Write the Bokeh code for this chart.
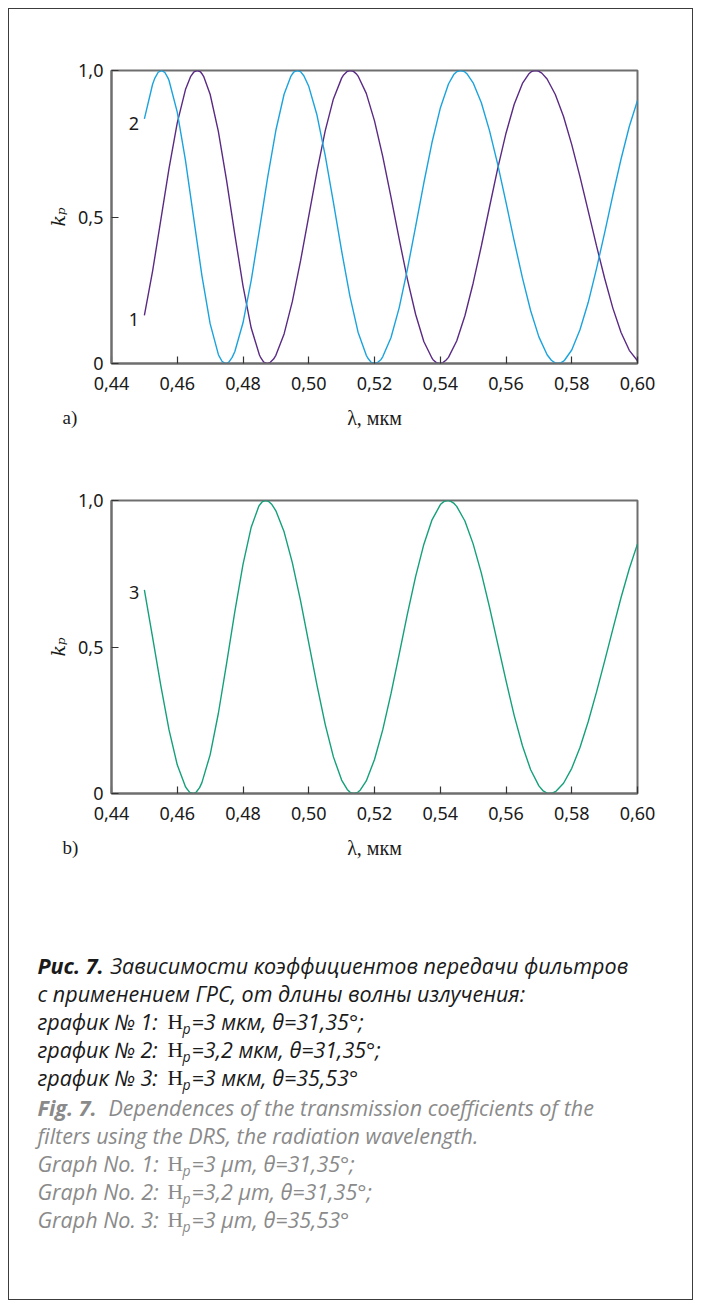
import math
from bokeh.plotting import figure
from bokeh.layouts import column
from bokeh.models import Label, Range1d, FixedTicker
from bokeh.embed import file_html
from bokeh.resources import INLINE

# ---------------- data ----------------
wavelength = [0.4500, 0.4525, 0.4550, 0.4575, 0.4600, 0.4625, 0.4650, 0.4675, 0.4700, 0.4725,
              0.4750, 0.4775, 0.4800, 0.4825, 0.4850, 0.4875, 0.4900, 0.4925, 0.4950, 0.4975,
              0.5000, 0.5025, 0.5050, 0.5075, 0.5100, 0.5125, 0.5150, 0.5175, 0.5200, 0.5225,
              0.5250, 0.5275, 0.5300, 0.5325, 0.5350, 0.5375, 0.5400, 0.5425, 0.5450, 0.5475,
              0.5500, 0.5525, 0.5550, 0.5575, 0.5600, 0.5625, 0.5650, 0.5675, 0.5700, 0.5725,
              0.5750, 0.5775, 0.5800, 0.5825, 0.5850, 0.5875, 0.5900, 0.5925, 0.5950, 0.5975,
              0.6000]

# graph 1 (Hp = 3 um, theta = 31.35)
k_graph1 = [0.164, 0.315, 0.490, 0.666, 0.821, 0.935, 0.994, 0.989, 0.919, 0.792,
            0.625, 0.441, 0.265, 0.121, 0.029, 0.000, 0.028, 0.101, 0.211, 0.350,
            0.503, 0.656, 0.794, 0.903, 0.974, 1.000, 0.981, 0.922, 0.828, 0.707,
            0.569, 0.425, 0.288, 0.168, 0.075, 0.018, 0.000, 0.021, 0.077, 0.163,
            0.274, 0.401, 0.535, 0.667, 0.786, 0.885, 0.956, 0.994, 0.997, 0.971,
            0.918, 0.843, 0.747, 0.638, 0.521, 0.403, 0.291, 0.189, 0.106, 0.045,
            0.009]
# extra readings around the maxima / minima of graph 1
extra_x1 = [0.4641, 0.4651, 0.4661, 0.4671, 0.4681,
            0.4853, 0.4863, 0.4873, 0.4883, 0.4893,
            0.5106, 0.5116, 0.5126, 0.5136, 0.5146,
            0.5378, 0.5388, 0.5398, 0.5408, 0.5418,
            0.5669, 0.5679, 0.5689, 0.5699, 0.5709]
extra_k1 = [0.980, 0.995, 1.000, 0.995, 0.978,
            0.022, 0.005, 0.000, 0.004, 0.015,
            0.985, 0.996, 1.000, 0.997, 0.987,
            0.013, 0.003, 0.000, 0.003, 0.012,
            0.988, 0.997, 1.000, 0.998, 0.991]

# graph 2 (Hp = 3.2 um, theta = 31.35)
k_graph2 = [0.835, 0.953, 0.999, 0.966, 0.858, 0.693, 0.496, 0.300, 0.136, 0.031,
            0.000, 0.040, 0.139, 0.284, 0.457, 0.635, 0.796, 0.919, 0.988, 0.996,
            0.946, 0.848, 0.710, 0.550, 0.384, 0.231, 0.107, 0.028, 0.000, 0.023,
            0.088, 0.190, 0.321, 0.467, 0.616, 0.755, 0.871, 0.954, 0.996, 0.995,
            0.958, 0.890, 0.794, 0.679, 0.550, 0.418, 0.292, 0.180, 0.091, 0.030,
            0.002, 0.008, 0.046, 0.115, 0.208, 0.322, 0.446, 0.575, 0.698, 0.809,
            0.898]
extra_x2 = [0.4532, 0.4542, 0.4552, 0.4562, 0.4572,
            0.4727, 0.4737, 0.4747, 0.4757, 0.4767,
            0.4945, 0.4955, 0.4965, 0.4985,
            0.5180, 0.5190, 0.5210, 0.5220,
            0.5441, 0.5451, 0.5461, 0.5471, 0.5481,
            0.5738, 0.5748, 0.5758, 0.5768, 0.5778]
extra_k2 = [0.974, 0.994, 1.000, 0.994, 0.974,
            0.026, 0.006, 0.000, 0.005, 0.021,
            0.979, 0.995, 1.000, 0.982,
            0.018, 0.004, 0.004, 0.014,
            0.986, 0.996, 1.000, 0.997, 0.989,
            0.011, 0.003, 0.000, 0.003, 0.011]

# graph 3 (Hp = 3 um, theta = 35.53)
k_graph3 = [0.695, 0.533, 0.368, 0.217, 0.098, 0.023, 0.000, 0.037, 0.132, 0.273,
            0.443, 0.620, 0.782, 0.909, 0.984, 0.998, 0.965, 0.893, 0.788, 0.658,
            0.514, 0.370, 0.236, 0.125, 0.046, 0.005, 0.005, 0.043, 0.116, 0.217,
            0.340, 0.475, 0.612, 0.740, 0.850, 0.934, 0.985, 1.000, 0.980, 0.930,
            0.852, 0.752, 0.635, 0.510, 0.385, 0.266, 0.163, 0.081, 0.026, 0.001,
            0.006, 0.035, 0.086, 0.157, 0.245, 0.345, 0.452, 0.561, 0.669, 0.767,
            0.852]
extra_x3 = [0.4628, 0.4638, 0.4648, 0.4658, 0.4668,
            0.4848, 0.4858, 0.4868, 0.4878, 0.4888,
            0.5117, 0.5127, 0.5137, 0.5147, 0.5157,
            0.5402, 0.5412, 0.5422, 0.5432, 0.5442,
            0.5712, 0.5722, 0.5732, 0.5742, 0.5752]
extra_k3 = [0.018, 0.004, 0.000, 0.005, 0.020,
            0.980, 0.995, 1.000, 0.997, 0.986,
            0.014, 0.003, 0.000, 0.003, 0.012,
            0.988, 0.997, 1.000, 0.997, 0.990,
            0.010, 0.003, 0.000, 0.002, 0.008]

x_ticks = [0.44, 0.46, 0.48, 0.50, 0.52, 0.54, 0.56, 0.58, 0.60]
x_tick_labels = ["0,44", "0,46", "0,48", "0,50", "0,52", "0,54", "0,56", "0,58", "0,60"]
y_ticks = [0.0, 0.5, 1.0]
y_tick_labels = ["0", "0,5", "1,0"]

x_label = "λ, мкм"
y_label = "kₚ"

COL1 = "#5a2a84"
COL2 = "#1aa3de"
COL3 = "#14a07a"
FRAME = "#6e6e6e"
TXT = "#1a1a1a"


def merged(xs, ks, ex, ek):
    pts = sorted(list(zip(xs, ks)) + list(zip(ex, ek)))
    return [a for a, _ in pts], [b for _, b in pts]


def no_align(fig):
    if "frame_align" in fig.properties():
        fig.frame_align = False


def make_chart(top, series, curve_labels):
    height = top + 293 + 36
    p = figure(width=683, height=height, output_backend="svg", toolbar_location=None, tools="",
               x_range=Range1d(0.44, 0.60), y_range=Range1d(0.0, 1.0),
               min_border_left=102, min_border_right=55, min_border_top=top, min_border_bottom=36)
    p.background_fill_color = "white"
    p.border_fill_color = "white"
    p.xgrid.visible = False
    p.ygrid.visible = False
    p.outline_line_color = FRAME
    p.outline_line_width = 2
    for xs, ks, color in series:
        p.line(xs, ks, line_color=color, line_width=1.4)
    p.xaxis.ticker = FixedTicker(ticks=x_ticks)
    p.xaxis.major_label_overrides = dict(zip(x_ticks, x_tick_labels))
    p.yaxis.ticker = FixedTicker(ticks=y_ticks)
    p.yaxis.major_label_overrides = dict(zip(y_ticks, y_tick_labels))
    p.axis.axis_line_color = FRAME
    p.axis.axis_line_width = 2
    p.axis.major_tick_in = 7
    p.axis.major_tick_out = 0
    p.axis.minor_tick_line_color = None
    p.axis.major_tick_line_color = "#333333"
    p.axis.major_tick_line_width = 1.2
    p.axis.major_label_text_font = "Noto Sans"
    p.axis.major_label_text_font_size = "18px"
    p.axis.major_label_text_color = TXT
    p.xaxis.major_label_standoff = 13
    p.yaxis.major_label_standoff = 8
    p.yaxis.axis_label = y_label
    p.yaxis.axis_label_text_font = "DejaVu Serif"
    p.yaxis.axis_label_text_font_style = "italic"
    p.yaxis.axis_label_text_font_size = "19px"
    p.yaxis.axis_label_text_color = TXT
    p.yaxis.axis_label_standoff = 6
    for lx, ly, txt in curve_labels:
        p.add_layout(Label(x=lx, y=ly, text=txt, text_align="center", text_baseline="middle",
                           text_font="Noto Sans", text_font_size="18px", text_color=TXT))
    return p


def make_strip(height, letter):
    s = figure(width=683, height=height, output_backend="svg", toolbar_location=None, tools="",
               x_range=Range1d(0, 683), y_range=Range1d(height, 0),
               x_axis_location=None, y_axis_location=None,
               min_border_left=0, min_border_right=0, min_border_top=0, min_border_bottom=0)
    no_align(s)
    s.xgrid.visible = False
    s.ygrid.visible = False
    s.outline_line_color = None
    s.background_fill_color = "white"
    s.border_fill_color = "white"
    s.add_layout(Label(x=53, y=18, text=letter, text_align="left", text_baseline="middle",
                       text_font="Liberation Serif", text_font_size="19px", text_color=TXT))
    s.add_layout(Label(x=365, y=18, text=x_label, text_align="center", text_baseline="middle",
                       text_font="Liberation Serif", text_font_size="20px", text_color=TXT))
    return s


x1, y1 = merged(wavelength, k_graph1, extra_x1, extra_k1)
x2, y2 = merged(wavelength, k_graph2, extra_x2, extra_k2)
x3, y3 = merged(wavelength, k_graph3, extra_x3, extra_k3)

p1 = make_chart(61, [(x1, y1, COL1), (x2, y2, COL2)],
                [(0.4468, 0.82, "2"), (0.4468, 0.15, "1")])
s1 = make_strip(71, "a)")
p2 = make_chart(30, [(x3, y3, COL3)], [(0.4469, 0.686, "3")])
s2 = make_strip(71, "b)")

# ---------------- caption ----------------
p3 = figure(width=683, height=399, output_backend="svg", toolbar_location=None, tools="",
            x_range=Range1d(0, 683), y_range=Range1d(399, 0),
            x_axis_location=None, y_axis_location=None,
            min_border_left=0, min_border_right=0, min_border_top=0, min_border_bottom=0)
no_align(p3)
p3.xgrid.visible = False
p3.ygrid.visible = False
p3.outline_line_color = None
p3.background_fill_color = "white"
p3.border_fill_color = "white"

CAP_FONT = "Open Sans"
CAP_SIZE = "21.5px"
GREY = "#8a8a8a"


def cap(x, y, txt, color, bold=False, font=CAP_FONT, size=CAP_SIZE, style=None):
    st = style if style is not None else ("bold italic" if bold else "italic")
    p3.add_layout(Label(x=x, y=y, text=txt, text_align="left", text_baseline="middle",
                        text_font=font, text_font_style=st, text_font_size=size,
                        text_color=color))


def hp(x, y, color):
    cap(x, y, "H", color, font="Liberation Serif", style="normal")
    cap(x + 15, y + 7, "p", color, size="14px")


line_y = [65, 93, 121, 149, 177, 207, 235, 263, 291, 319]
X0 = 28
HX = 158

cap(X0, line_y[0], "Рис. 7.", TXT, bold=True)
cap(101, line_y[0], "Зависимости коэффициентов передачи фильтров", TXT)
cap(X0, line_y[1], "с применением ГРС, от длины волны излучения:", TXT)
cap(X0, line_y[2], "график № 1:", TXT); hp(HX, line_y[2], TXT)
cap(HX + 24, line_y[2], "=3 мкм, θ=31,35°;", TXT)
cap(X0, line_y[3], "график № 2:", TXT); hp(HX, line_y[3], TXT)
cap(HX + 24, line_y[3], "=3,2 мкм, θ=31,35°;", TXT)
cap(X0, line_y[4], "график № 3:", TXT); hp(HX, line_y[4], TXT)
cap(HX + 24, line_y[4], "=3 мкм, θ=35,53°", TXT)

cap(X0, line_y[5], "Fig. 7.", GREY, bold=True)
cap(99, line_y[5], "Dependences of the transmission coefficients of the", GREY)
cap(X0, line_y[6], "filters using the DRS, the radiation wavelength.", GREY)
cap(X0, line_y[7], "Graph No. 1:", GREY); hp(HX, line_y[7], GREY)
cap(HX + 24, line_y[7], "=3 μm, θ=31,35°;", GREY)
cap(X0, line_y[8], "Graph No. 2:", GREY); hp(HX, line_y[8], GREY)
cap(HX + 24, line_y[8], "=3,2 μm, θ=31,35°;", GREY)
cap(X0, line_y[9], "Graph No. 3:", GREY); hp(HX, line_y[9], GREY)
cap(HX + 24, line_y[9], "=3 μm, θ=35,53°", GREY)

layout = column(p1, s1, p2, s2, p3, styles={"border": "1px solid #3c3c3c", "margin": "8px"})

open("out.html", "w").write(file_html(layout, INLINE))
